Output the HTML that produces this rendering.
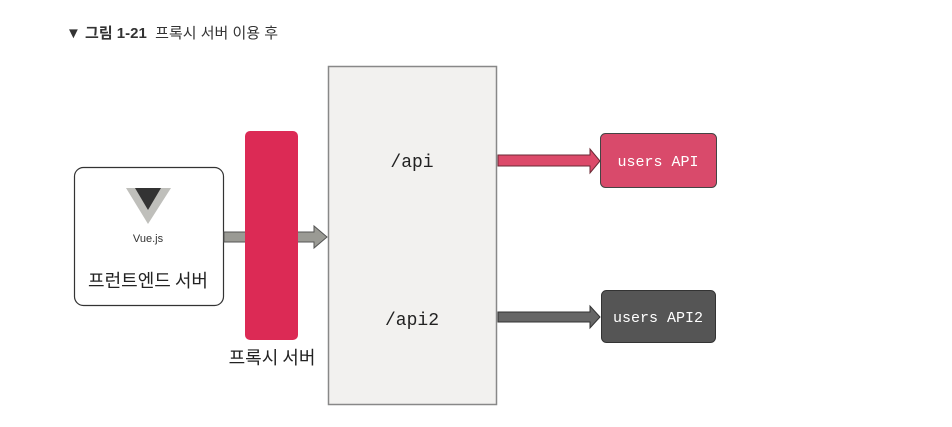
<!DOCTYPE html>
<html><head><meta charset="utf-8"><style>
body{margin:0;width:952px;height:427px;background:#fff;position:relative;overflow:hidden;font-family:"Liberation Sans","Noto Sans CJK KR",sans-serif}
.a{position:absolute}
</style></head><body>
<div class="a" style="left:66px;top:22px;font-size:15px;color:#333"><b>▼ 그림 1-21</b>&nbsp; 프록시 서버 이용 후</div>
<svg class="a" style="left:0;top:0" width="952" height="427">
<rect x="328.5" y="66.5" width="168" height="338" fill="#f2f1ef" stroke="#888" stroke-width="1.5"/>
<rect x="74.5" y="167.5" width="149" height="138" rx="9" fill="#fff" stroke="#333" stroke-width="1.2"/>
<!-- gray arrow left -->
<polygon points="224,232 314,232 314,226 327,237 314,248 314,242 224,242" fill="#9a9a94" stroke="#555" stroke-width="1"/>
<rect x="245" y="131" width="53" height="209" rx="5" fill="#dc2a55"/>
<polygon points="126,188 171,188 148,224" fill="#bfbfbb"/>
<polygon points="135,188 161,188 148,210" fill="#333"/>
<!-- red arrow -->
<polygon points="498,155 590,155 590,149 600,161 590,173 590,166 498,166" fill="#dc4a6a" stroke="#6a2a35" stroke-width="1"/>
<rect x="600.5" y="133.5" width="116" height="54" rx="5" fill="#d94a6b" stroke="#444" stroke-width="1"/>
<!-- gray arrow right -->
<polygon points="498,312 590,312 590,306 600,317 590,328 590,322 498,322" fill="#666" stroke="#333" stroke-width="1"/>
<rect x="601.5" y="290.5" width="114" height="52" rx="5" fill="#555" stroke="#333" stroke-width="1"/>
<text x="148" y="242" font-size="11" text-anchor="middle" fill="#333" font-family="Liberation Sans, sans-serif">Vue.js</text>
<text x="148" y="287" font-size="18" text-anchor="middle" fill="#222" font-family="Noto Sans CJK KR, sans-serif">프런트엔드 서버</text>
<text x="272" y="364" font-size="18" text-anchor="middle" fill="#222" font-family="Noto Sans CJK KR, sans-serif">프록시 서버</text>
<text x="412" y="167" font-size="18" text-anchor="middle" fill="#222" font-family="Liberation Mono, monospace">/api</text>
<text x="412" y="325" font-size="18" text-anchor="middle" fill="#222" font-family="Liberation Mono, monospace">/api2</text>
<text x="658" y="166" font-size="15" text-anchor="middle" fill="#fff" font-family="Liberation Mono, monospace">users API</text>
<text x="658" y="322" font-size="15" text-anchor="middle" fill="#fff" font-family="Liberation Mono, monospace">users API2</text>
</svg>
</body></html>
